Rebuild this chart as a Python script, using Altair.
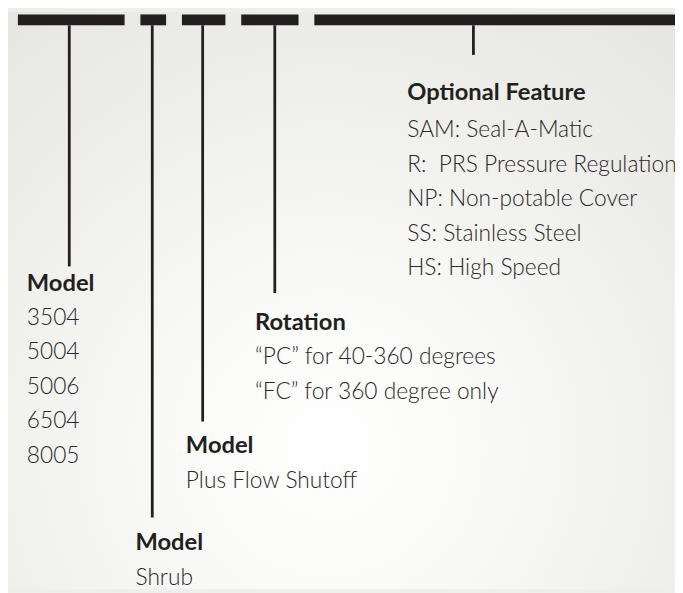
import altair as alt
import pandas as pd

# Segments of the code bar at the top (page pixels)
bar_start = [18, 142, 184, 244, 318]
bar_end = [126, 168, 228, 302, 700]

# Leader lines hanging from each segment
leader_x = [70, 154, 205, 278, 479]
leader_end = [266, 520, 423, 293, 52]

# Headings
headings = ["Model", "Model", "Model", "Rotation", "Optional Feature"]
heading_x = [27, 137, 188, 258, 412]
heading_y = [291, 553, 455, 330, 98]

# Item lines
items = [
    "3504", "5004", "5006", "6504", "8005",
    "Shrub",
    "Plus Flow Shutoff",
    "\u201cPC\u201d for 40-360 degrees", "\u201cFC\u201d for 360 degree only",
    "SAM: Seal-A-Matic", "R:\u00a0 PRS Pressure Regulation", "NP: Non-potable Cover",
    "SS: Stainless Steel", "HS: High Speed",
]
item_x = [27, 27, 27, 27, 27, 137, 188, 258, 258, 412, 412, 412, 412, 412]
item_y = [325, 360, 395, 430, 465, 588, 490, 365, 400, 135, 170, 205, 240, 275]

W, H = 675, 585
XD = [8, 683]
YD = [8, 593]
ink = "#231f20"

xs = alt.Scale(domain=XD, nice=False, zero=False)
ys = alt.Scale(domain=YD, nice=False, zero=False, reverse=True)

bg = alt.Chart(pd.DataFrame({"a": [0]})).mark_rect(
    color={
        "gradient": "radial",
        "x1": 0.48, "y1": 0.72, "r1": 0,
        "x2": 0.48, "y2": 0.72, "r2": 0.85,
        "stops": [
            {"offset": 0, "color": "#ffffff"},
            {"offset": 0.3, "color": "#f9f9f7"},
            {"offset": 0.65, "color": "#eeeeeb"},
            {"offset": 1, "color": "#e5e5e1"},
        ],
    }
).encode(x=alt.value(0), x2=alt.value(W), y=alt.value(0), y2=alt.value(H))

bars_df = pd.DataFrame({"x": bar_start, "x2": bar_end, "y": [11] * 5, "y2": [22] * 5})
bars = alt.Chart(bars_df).mark_rect(color=ink).encode(
    x=alt.X("x:Q", scale=xs, axis=None),
    x2="x2:Q",
    y=alt.Y("y:Q", scale=ys, axis=None),
    y2="y2:Q",
)

lead_df = pd.DataFrame({"x": leader_x, "y": [22] * 5, "y2": leader_end})
leaders = alt.Chart(lead_df).mark_rule(color=ink, strokeWidth=2.8).encode(
    x=alt.X("x:Q", scale=xs, axis=None),
    y=alt.Y("y:Q", scale=ys, axis=None),
    y2="y2:Q",
)

head_df = pd.DataFrame({"t": headings, "x": heading_x, "y": heading_y})
heads = alt.Chart(head_df).mark_text(
    font="Lato", fontSize=24, fontWeight="bold", color=ink,
    align="left", baseline="alphabetic",
).encode(
    x=alt.X("x:Q", scale=xs, axis=None),
    y=alt.Y("y:Q", scale=ys, axis=None),
    text="t:N",
)

item_df = pd.DataFrame({"t": items, "x": item_x, "y": item_y})
its = alt.Chart(item_df).mark_text(
    font="Lato", fontSize=23, fontWeight=300, color="#2a2728",
    align="left", baseline="alphabetic",
).encode(
    x=alt.X("x:Q", scale=xs, axis=None),
    y=alt.Y("y:Q", scale=ys, axis=None),
    text="t:N",
)

chart = alt.layer(bg, bars, leaders, heads, its).properties(
    width=W, height=H, padding=0, autosize=alt.AutoSizeParams(type="none"),
    background="#eeeeeb",
).configure_view(stroke=None)

chart.save("out.html", embed_options={"renderer": "svg", "actions": False})
